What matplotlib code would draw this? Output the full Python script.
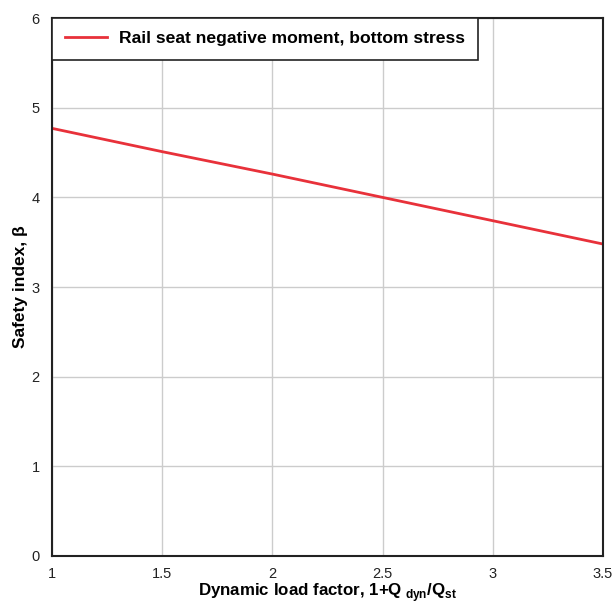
"""Safety index vs dynamic load factor for rail seat negative moment."""

import matplotlib

matplotlib.use("Agg")

import matplotlib.pyplot as plt

plt.rcParams["font.family"] = ["Liberation Sans", "DejaVu Sans"]
plt.rcParams["mathtext.fontset"] = "custom"
plt.rcParams["mathtext.rm"] = "Liberation Sans"
plt.rcParams["mathtext.bf"] = "Liberation Sans:bold"

load_factor = [1.0, 1.5, 2.0, 2.5, 3.0, 3.5]
safety_index = [4.77, 4.51, 4.26, 4.00, 3.74, 3.48]
series_label = "Rail seat negative moment, bottom stress"

fig = plt.figure(figsize=(6.12, 6.03), dpi=100)
ax = fig.add_axes([0.085, 0.078, 0.900, 0.892])

ax.plot(load_factor, safety_index, color="#e8313a", linewidth=2.0, label=series_label)

ax.set_xlim(1, 3.5)
ax.set_ylim(0, 6)
ax.set_xticks([1, 1.5, 2, 2.5, 3, 3.5])
ax.set_xticklabels(["1", "1.5", "2", "2.5", "3", "3.5"])
ax.set_yticks(range(0, 7))
ax.tick_params(length=0, labelsize=10.5, colors="#222222")
ax.tick_params(axis="x", pad=8)
ax.tick_params(axis="y", pad=9)
ax.grid(True, color="#cccccc", linewidth=1.0)
for spine in ax.spines.values():
    spine.set_color("#222222")
    spine.set_linewidth(1.5)

ax.set_xlabel(r"Dynamic load factor, 1+Q$_{\mathbf{\ dyn}}$/Q$_{\mathbf{st}}$",
              fontsize=12.2, fontweight="bold", labelpad=0)
ax.set_ylabel("Safety index, β", fontsize=12.5, fontweight="bold", labelpad=2)

leg = ax.legend(loc="upper left", borderaxespad=0, fancybox=False,
                prop={"weight": "bold", "size": 12.6}, handlelength=2.4,
                borderpad=0.75, handletextpad=0.65)
leg.get_frame().set_edgecolor("#222222")
leg.get_frame().set_linewidth(1.2)
leg.get_frame().set_alpha(1)

fig.savefig("out.png", dpi=100)
plt.close(fig)
